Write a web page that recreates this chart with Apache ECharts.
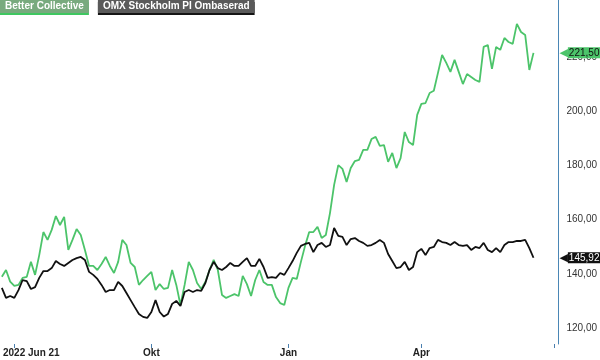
<!DOCTYPE html>
<html><head><meta charset="utf-8">
<script src="https://cdn.jsdelivr.net/npm/echarts@6/dist/echarts.min.js"></script>
<style>html,body{margin:0;padding:0;background:#fff}#c{width:600px;height:360px}</style>
</head><body><div id="c"></div>
<script>
const seriesNames = ['Better Collective', 'OMX Stockholm PI Ombaserad'];

const betterCollective = [138.9, 141.4, 137.1, 135.5, 135.9, 138.5, 138.9, 144.4, 139.6, 146.9,
155.4, 152.5, 156.2, 161.3, 158.0, 161.0, 148.8, 152.5, 156.5, 154.3,
148.8, 142.9, 142.9, 141.4, 143.6, 146.2, 142.9, 140.3, 144.4, 152.5,
150.6, 144.0, 142.5, 135.9, 137.7, 139.2, 140.7, 134.0, 136.2, 134.4,
134.8, 141.4, 135.9, 128.5, 135.9, 144.4, 141.4, 136.6, 134.4, 137.0,
141.4, 145.1, 141.4, 132.2, 131.1, 131.8, 132.5, 131.8, 139.2, 136.2,
131.8, 137.7, 141.4, 137.0, 135.9, 135.9, 131.4, 129.2, 128.5, 134.8,
138.5, 138.1, 144.4, 150.3, 155.4, 155.4, 157.3, 153.2, 154.3, 162.4,
172.8, 180.1, 178.7, 173.9, 179.0, 181.6, 182.0, 185.7, 185.7, 189.7,
190.5, 187.2, 187.5, 181.3, 184.6, 179.0, 182.7, 192.3, 188.6, 187.5,
198.6, 202.7, 203.0, 206.7, 207.5, 214.1, 220.7, 217.8, 214.5, 218.9,
214.5, 210.0, 213.7, 212.6, 211.5, 210.8, 223.7, 224.4, 215.6, 223.7,
222.6, 227.0, 225.5, 224.8, 232.2, 229.2, 228.1, 215.2, 221.5];

const omxStockholmPI = [134.8, 131.1, 131.8, 131.1, 134.0, 137.7, 137.3, 134.4, 135.1, 138.5,
141.0, 141.0, 142.1, 144.7, 143.6, 142.9, 144.0, 145.1, 145.8, 146.2,
145.1, 140.7, 139.6, 138.1, 135.9, 133.3, 134.0, 134.0, 137.0, 135.5,
132.9, 130.3, 127.7, 125.2, 124.1, 123.7, 125.9, 130.3, 125.9, 124.2,
125.2, 128.9, 130.0, 128.1, 133.3, 134.0, 133.3, 134.0, 133.7, 136.6,
141.4, 144.4, 142.1, 141.4, 142.5, 144.0, 142.9, 142.9, 144.4, 145.8,
142.9, 142.9, 145.5, 142.5, 138.5, 138.8, 138.5, 140.3, 139.6, 142.1,
144.7, 147.7, 150.3, 151.0, 151.4, 148.0, 150.6, 151.4, 149.9, 150.6,
156.9, 154.0, 153.6, 150.6, 152.8, 153.2, 152.1, 151.4, 150.3, 150.6,
151.4, 152.5, 151.4, 147.3, 144.7, 142.1, 142.5, 144.4, 141.4, 142.5,
148.0, 149.2, 146.9, 149.5, 149.9, 152.5, 151.7, 151.4, 150.6, 151.7,
150.6, 150.3, 150.6, 148.8, 149.9, 149.5, 151.4, 148.8, 148.0, 149.5,
148.0, 150.6, 151.7, 151.7, 152.1, 152.1, 152.5, 149.5, 145.92];

const categoryCount = 135;
const categories = [];
for (let i = 0; i < categoryCount; i++) categories.push('d' + i);
const tickIndex = [3, 36, 69, 101, 133];
const tickLabels = ['2022 Jun 21', 'Okt', 'Jan', 'Apr', ''];
const yTicks = [120, 140, 160, 180, 200, 220];

const GREEN = '#4cc46a';
const BLACK = '#111111';
const fmt = v => Number(v).toFixed(2).replace('.', ',');
const isTick = (i) => tickIndex.indexOf(i) >= 0;

function tagMarkLine(values, color, textColor) {
  const last = values[values.length - 1];
  return {
    silent: true, symbol: 'none', animation: false,
    lineStyle: { color: 'rgba(0,0,0,0)', width: 0, opacity: 1 },
    label: {
      show: true, position: 'end', distance: 1, opacity: 1,
      formatter: p => '{a|◀}{b|' + fmt(p.value) + '}',
      rich: {
        a: { color: color, fontSize: 11, fontFamily: 'DejaVu Sans', lineHeight: 12 },
        b: { backgroundColor: color, color: textColor, fontSize: 10, fontFamily: 'Liberation Sans, Arial, sans-serif', padding: [1, 2, 0, 1], lineHeight: 11 }
      }
    },
    data: [{ yAxis: last }]
  };
}

const chart = echarts.init(document.getElementById('c'), null, { renderer: 'canvas' });
chart.setOption({
  animation: false,
  backgroundColor: '#ffffff',
  textStyle: { fontFamily: 'Liberation Sans, Arial, sans-serif' },
  legend: {
    left: -5, top: 0, padding: 0, itemGap: 4, itemWidth: 0, itemHeight: 13, icon: 'rect',
    selectedMode: false,
    data: [
      { name: seriesNames[0], textStyle: { color: '#fff', fontWeight: 'bold', fontSize: 10, lineHeight: 11, padding: [1, 5, 1, 5], backgroundColor: '#78aa7e', shadowColor: '#3ec760', shadowOffsetY: 2, shadowBlur: 0 } },
      { name: seriesNames[1], textStyle: { color: '#fff', fontWeight: 'bold', fontSize: 10, lineHeight: 11, padding: [1, 5, 1, 5], backgroundColor: '#5a5a5a', shadowColor: '#151515', shadowOffsetY: 2, shadowBlur: 0 } }
    ]
  },
  grid: { left: 0, right: 40, top: 0, bottom: 16, containLabel: false },
  xAxis: {
    type: 'category', data: categories, boundaryGap: false,
    axisLine: { show: false },
    axisTick: { show: true, length: 4, interval: (i) => isTick(i), lineStyle: { color: '#4a7fae' } },
    axisLabel: {
      interval: (i) => isTick(i), margin: 4, color: '#222', fontWeight: 'bold', fontSize: 10,
      formatter: (v, i) => {
        const k = tickIndex.indexOf(i);
        if (k < 0) return '';
        if (k === 0) return '{first|' + tickLabels[0] + '}';
        return tickLabels[k];
      },
      rich: { first: { padding: [0, 0, 0, 34], fontWeight: 'bold', fontSize: 10, color: '#222' } }
    },
    splitLine: { show: false }
  },
  yAxis: {
    type: 'value', position: 'right', min: 114.1, max: 241, scale: true,
    axisLine: { show: true, lineStyle: { color: '#4a86b5', width: 1 } },
    axisTick: { show: false },
    splitLine: { show: false },
    axisLabel: { customValues: yTicks, margin: 8, color: '#333', fontSize: 10, formatter: v => fmt(v) }
  },
  series: [
    { name: seriesNames[0], type: 'line', data: betterCollective, symbol: 'none', showSymbol: false, clip: false,
      lineStyle: { color: GREEN, width: 1.8 }, itemStyle: { color: GREEN }, z: 2,
      markLine: tagMarkLine(betterCollective, GREEN, '#111') },
    { name: seriesNames[1], type: 'line', data: omxStockholmPI, symbol: 'none', showSymbol: false, clip: false,
      lineStyle: { color: BLACK, width: 1.8 }, itemStyle: { color: BLACK }, z: 3,
      markLine: tagMarkLine(omxStockholmPI, BLACK, '#fff') }
  ]
});
</script></body></html>
